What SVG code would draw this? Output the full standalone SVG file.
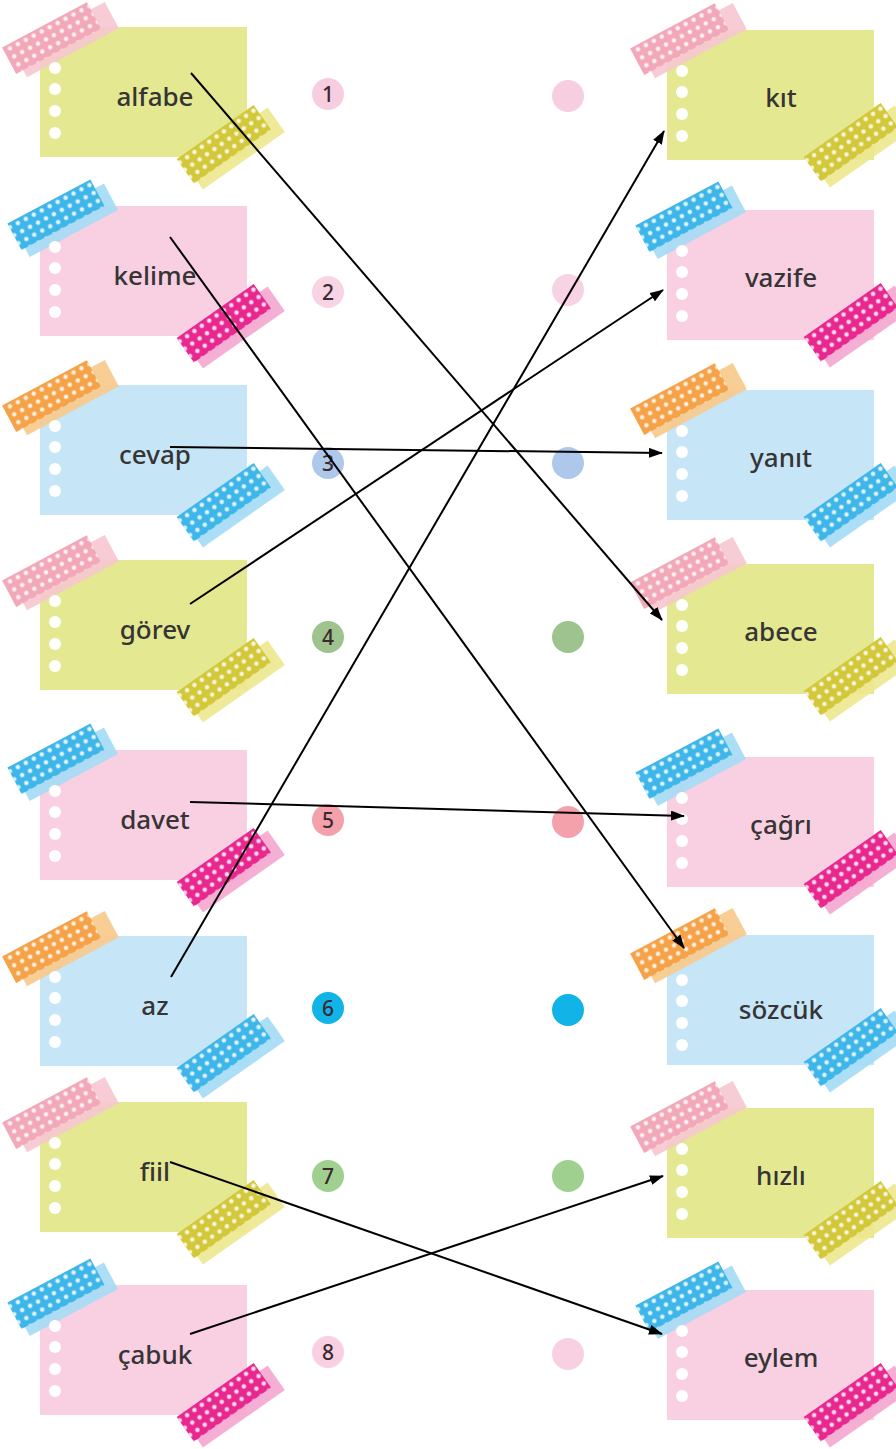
<svg xmlns="http://www.w3.org/2000/svg" xmlns:xlink="http://www.w3.org/1999/xlink" width="896" height="1449" viewBox="0 0 896 1449">
<style>
.g{fill:#e3e891}.p{fill:#f8d0e2}.b{fill:#c6e6f8}
.hole{fill:#ffffff}
.lbl{font-family:"Noto Sans","DejaVu Sans",sans-serif;font-size:26px;fill:#363434;text-anchor:middle;font-weight:500}
.num{font-family:"Noto Sans","DejaVu Sans",sans-serif;font-size:21px;fill:#3a2a30;text-anchor:middle;font-weight:500}
.ln{stroke:#000;stroke-width:2;fill:none;marker-end:url(#ah)}
</style>
<defs>
<pattern id="dots" width="9" height="9" patternUnits="userSpaceOnUse">
<circle cx="4.5" cy="4.5" r="2.2" fill="#ffffff" opacity="0.85"/>
</pattern>
<marker id="ah" viewBox="0 0 14 10" refX="13" refY="5" markerWidth="14" markerHeight="10" markerUnits="userSpaceOnUse" orient="auto">
<path d="M0,0 L14,5 L0,10 Z" fill="#000"/>
</marker>
<g id="tp-pink"><rect x="-48" y="-10" width="104" height="30" fill="#f6c6d0" opacity="0.9"/><rect x="-56" y="-18" width="96" height="30" fill="#f2a8b8"/><rect x="-56" y="-18" width="96" height="30" fill="url(#dots)"/></g>
<g id="tp-olive"><rect x="-46" y="-8" width="100" height="30" fill="#ede78f" opacity="0.9"/><rect x="-50" y="-18" width="94" height="30" fill="#d3c83a"/><rect x="-50" y="-18" width="94" height="30" fill="url(#dots)"/></g>
<g id="tp-blue"><rect x="-46" y="-8" width="100" height="30" fill="#a3dbf5" opacity="0.9"/><rect x="-50" y="-18" width="94" height="30" fill="#3fb6ea"/><rect x="-50" y="-18" width="94" height="30" fill="url(#dots)"/></g>
<g id="tp-mag"><rect x="-46" y="-8" width="100" height="30" fill="#f5a6cf" opacity="0.9"/><rect x="-50" y="-18" width="94" height="30" fill="#e8288f"/><rect x="-50" y="-18" width="94" height="30" fill="url(#dots)"/></g>
<g id="tp-orange"><rect x="-48" y="-10" width="104" height="30" fill="#f8c98a" opacity="0.9"/><rect x="-56" y="-18" width="96" height="30" fill="#f5a248"/><rect x="-56" y="-18" width="96" height="30" fill="url(#dots)"/></g>
<g id="holes"><circle cx="15" cy="41" r="6" class="hole"/><circle cx="15" cy="62" r="6" class="hole"/><circle cx="15" cy="84" r="6" class="hole"/><circle cx="15" cy="106" r="6" class="hole"/></g>
</defs>
<rect width="896" height="1449" fill="#ffffff"/>

<!-- left notes -->
<g id="L1" transform="translate(40,27)"><rect width="207" height="130" class="g"/><use href="#tp-pink" transform="translate(20,10) rotate(-28)"/><use href="#holes"/><use href="#tp-olive" transform="translate(188,118) rotate(-35)"/><text x="115" y="79" class="lbl">alfabe</text></g>
<g id="L2" transform="translate(40,206)"><rect width="207" height="130" class="p"/><use href="#tp-blue" transform="translate(20,10) rotate(-28)"/><use href="#holes"/><use href="#tp-mag" transform="translate(188,118) rotate(-35)"/><text x="115" y="79" class="lbl">kelime</text></g>
<g id="L3" transform="translate(40,385)"><rect width="207" height="130" class="b"/><use href="#tp-orange" transform="translate(20,10) rotate(-28)"/><use href="#holes"/><use href="#tp-blue" transform="translate(188,118) rotate(-35)"/><text x="115" y="79" class="lbl">cevap</text></g>
<g id="L4" transform="translate(40,560)"><rect width="207" height="130" class="g"/><use href="#tp-pink" transform="translate(20,10) rotate(-28)"/><use href="#holes"/><use href="#tp-olive" transform="translate(188,118) rotate(-35)"/><text x="115" y="79" class="lbl">görev</text></g>
<g id="L5" transform="translate(40,750)"><rect width="207" height="130" class="p"/><use href="#tp-blue" transform="translate(20,10) rotate(-28)"/><use href="#holes"/><use href="#tp-mag" transform="translate(188,118) rotate(-35)"/><text x="115" y="79" class="lbl">davet</text></g>
<g id="L6" transform="translate(40,936)"><rect width="207" height="130" class="b"/><use href="#tp-orange" transform="translate(20,10) rotate(-28)"/><use href="#holes"/><use href="#tp-blue" transform="translate(188,118) rotate(-35)"/><text x="115" y="79" class="lbl">az</text></g>
<g id="L7" transform="translate(40,1102)"><rect width="207" height="130" class="g"/><use href="#tp-pink" transform="translate(20,10) rotate(-28)"/><use href="#holes"/><use href="#tp-olive" transform="translate(188,118) rotate(-35)"/><text x="115" y="79" class="lbl">fiil</text></g>
<g id="L8" transform="translate(40,1285)"><rect width="207" height="130" class="p"/><use href="#tp-blue" transform="translate(20,10) rotate(-28)"/><use href="#holes"/><use href="#tp-mag" transform="translate(188,118) rotate(-35)"/><text x="115" y="79" class="lbl">çabuk</text></g>

<!-- right notes -->
<g id="R1" transform="translate(667,30)"><rect width="207" height="130" class="g"/><use href="#tp-pink" transform="translate(21,8) rotate(-28)"/><use href="#holes"/><use href="#tp-olive" transform="translate(188,113) rotate(-35)"/><text x="114" y="77" class="lbl">kıt</text></g>
<g id="R2" transform="translate(667,210)"><rect width="207" height="130" class="p"/><use href="#tp-blue" transform="translate(21,8) rotate(-28)"/><use href="#holes"/><use href="#tp-mag" transform="translate(188,113) rotate(-35)"/><text x="114" y="77" class="lbl">vazife</text></g>
<g id="R3" transform="translate(667,390)"><rect width="207" height="130" class="b"/><use href="#tp-orange" transform="translate(21,8) rotate(-28)"/><use href="#holes"/><use href="#tp-blue" transform="translate(188,113) rotate(-35)"/><text x="114" y="77" class="lbl">yanıt</text></g>
<g id="R4" transform="translate(667,564)"><rect width="207" height="130" class="g"/><use href="#tp-pink" transform="translate(21,8) rotate(-28)"/><use href="#holes"/><use href="#tp-olive" transform="translate(188,113) rotate(-35)"/><text x="114" y="77" class="lbl">abece</text></g>
<g id="R5" transform="translate(667,757)"><rect width="207" height="130" class="p"/><use href="#tp-blue" transform="translate(21,8) rotate(-28)"/><use href="#holes"/><use href="#tp-mag" transform="translate(188,113) rotate(-35)"/><text x="114" y="77" class="lbl">çağrı</text></g>
<g id="R6" transform="translate(667,935)"><rect width="207" height="130" class="b"/><use href="#tp-orange" transform="translate(21,8) rotate(-28)"/><use href="#holes" transform="translate(0,4)"/><use href="#tp-blue" transform="translate(188,113) rotate(-35)"/><text x="114" y="84" class="lbl">sözcük</text></g>
<g id="R7" transform="translate(667,1108)"><rect width="207" height="130" class="g"/><use href="#tp-pink" transform="translate(21,8) rotate(-28)"/><use href="#holes"/><use href="#tp-olive" transform="translate(188,113) rotate(-35)"/><text x="114" y="77" class="lbl">hızlı</text></g>
<g id="R8" transform="translate(667,1290)"><rect width="207" height="130" class="p"/><use href="#tp-blue" transform="translate(21,8) rotate(-28)"/><use href="#holes"/><use href="#tp-mag" transform="translate(188,113) rotate(-35)"/><text x="114" y="77" class="lbl">eylem</text></g>

<!-- number circles -->
<g id="N1"><circle cx="328" cy="94" r="16" fill="#f7cde0"/><text x="328" y="101.5" class="num">1</text><circle cx="568" cy="96" r="16" fill="#f7cde0"/></g>
<g id="N2"><circle cx="328" cy="292" r="16" fill="#f8d3e3"/><text x="328" y="299.5" class="num">2</text><circle cx="568" cy="290" r="16" fill="#f8d3e3"/></g>
<g id="N3"><circle cx="328" cy="463" r="16" fill="#adc8ea"/><text x="328" y="470.5" class="num">3</text><circle cx="568" cy="463" r="16" fill="#adc8ea"/></g>
<g id="N4"><circle cx="328" cy="637" r="16" fill="#9ec38f"/><text x="328" y="644.5" class="num">4</text><circle cx="568" cy="637" r="16" fill="#9ec38f"/></g>
<g id="N5"><circle cx="328" cy="820" r="16" fill="#f4a1ab"/><text x="328" y="827.5" class="num">5</text><circle cx="568" cy="822" r="16" fill="#f4a1ab"/></g>
<g id="N6"><circle cx="328" cy="1008" r="16" fill="#12b4e8"/><text x="328" y="1015.5" class="num">6</text><circle cx="568" cy="1010" r="16" fill="#12b4e8"/></g>
<g id="N7"><circle cx="328" cy="1176" r="16" fill="#9fd08f"/><text x="328" y="1183.5" class="num">7</text><circle cx="568" cy="1176" r="16" fill="#9fd08f"/></g>
<g id="N8"><circle cx="328" cy="1352" r="16" fill="#f8d0e2"/><text x="328" y="1359.5" class="num">8</text><circle cx="568" cy="1354" r="16" fill="#f8d0e2"/></g>

<!-- connectors -->
<g id="connectors">
<line class="ln" x1="191" y1="73" x2="662" y2="620"/>
<line class="ln" x1="170" y1="237" x2="684" y2="948"/>
<line class="ln" x1="170" y1="447" x2="662" y2="453"/>
<line class="ln" x1="190" y1="604" x2="663" y2="290"/>
<line class="ln" x1="190" y1="802" x2="684" y2="816"/>
<line class="ln" x1="171" y1="977" x2="664" y2="131"/>
<line class="ln" x1="170" y1="1162" x2="662" y2="1334"/>
<line class="ln" x1="190" y1="1334" x2="663" y2="1176"/>
</g>
</svg>
